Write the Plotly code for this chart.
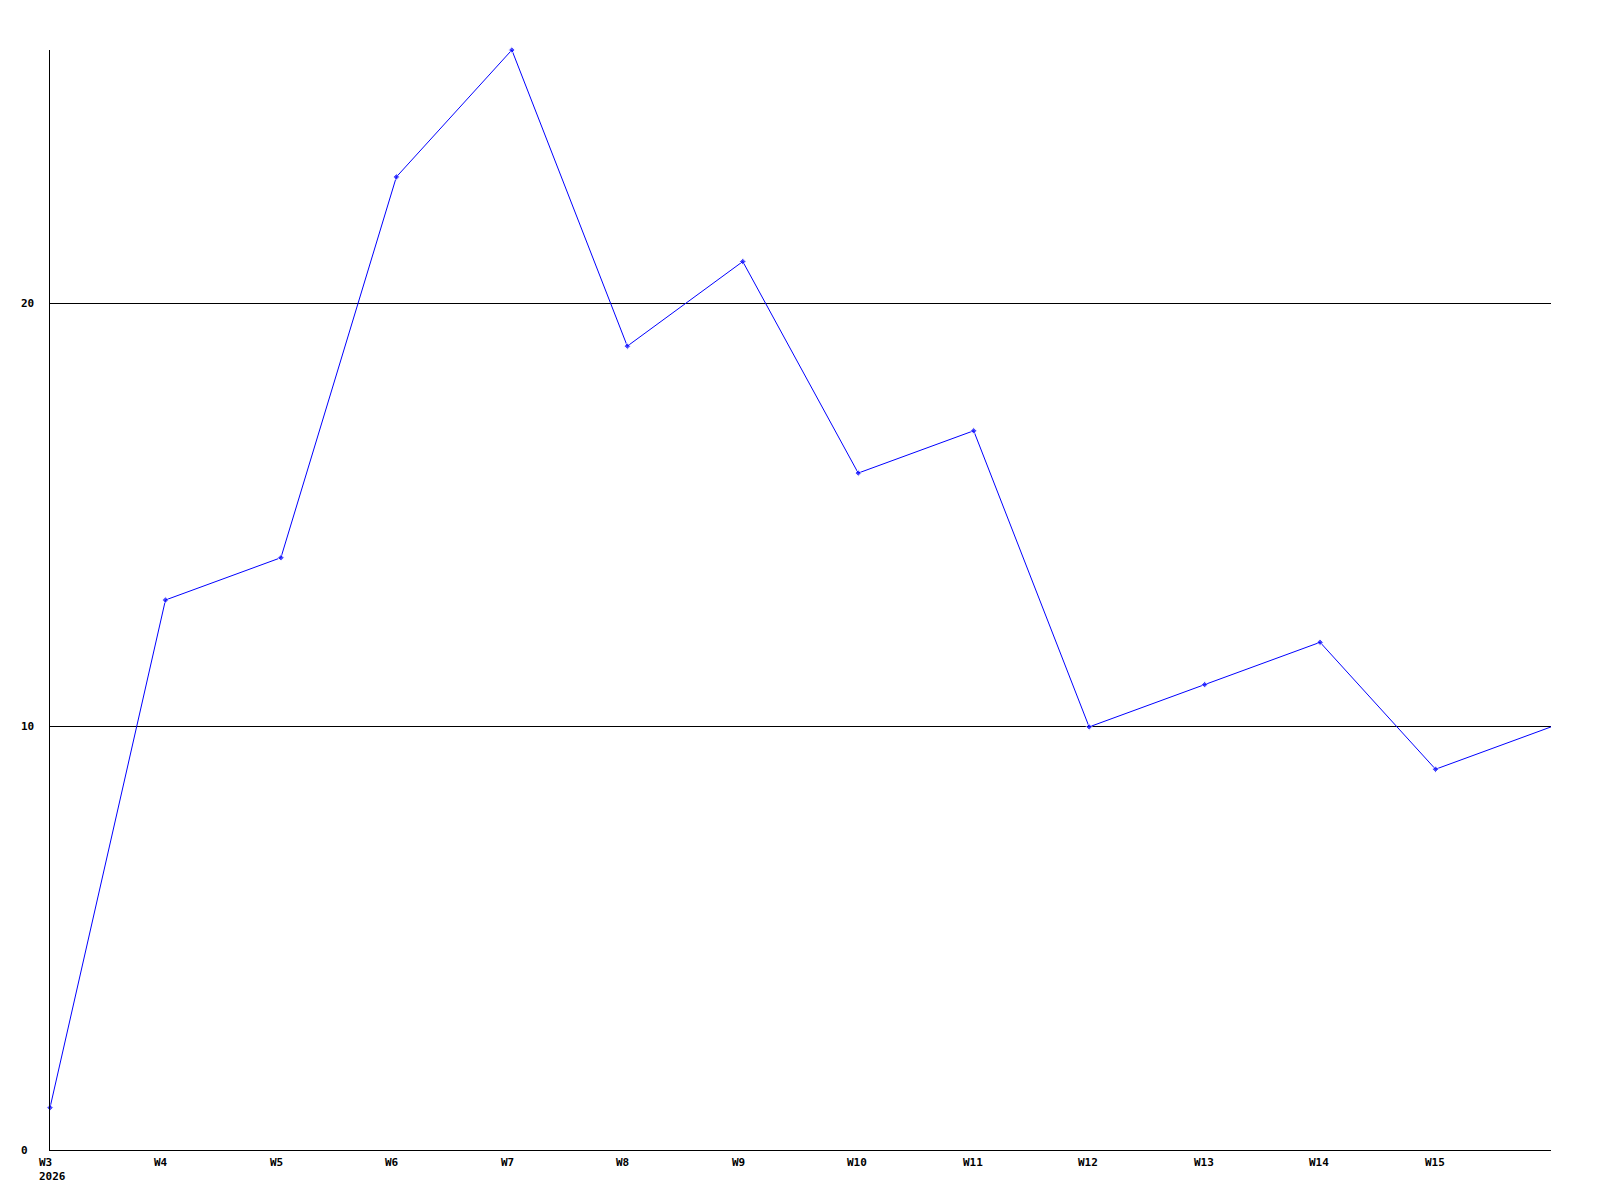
import plotly.graph_objects as go

weeks = ["W3", "W4", "W5", "W6", "W7", "W8", "W9", "W10", "W11", "W12", "W13", "W14", "W15", "W16"]
values = [1, 13, 14, 23, 26, 19, 21, 16, 17, 10, 11, 12, 9, 10]
tick_labels = ["W3", "W4", "W5", "W6", "W7", "W8", "W9", "W10", "W11", "W12", "W13", "W14", "W15"]
year_label = "2026"
y_ticks = [0, 10, 20]

xs = list(range(len(weeks)))
font = dict(family="DejaVu Sans Mono", size=11, color="black", weight="bold")

fig = go.Figure()
fig.add_trace(go.Scatter(
    x=xs, y=values, mode="lines+markers",
    line=dict(color="#0000ff", width=1),
    marker=dict(symbol="diamond", size=[5] * (len(xs) - 1) + [0], color="#0000ff"),
    cliponaxis=False, showlegend=False, hoverinfo="skip",
))

annotations = []
for i, t in enumerate(tick_labels):
    annotations.append(dict(x=i, y=0, xref="x", yref="paper", text=t, showarrow=False,
                            xanchor="left", yanchor="top", xshift=-13, yshift=-4, font=font))
annotations.append(dict(x=0, y=0, xref="x", yref="paper", text=year_label, showarrow=False,
                        xanchor="left", yanchor="top", xshift=-13, yshift=-18, font=font))
for v in y_ticks:
    annotations.append(dict(x=0, y=v, xref="paper", yref="y", text=str(v), showarrow=False,
                            xanchor="left", yanchor="middle", xshift=-31, font=font))
fig.update_layout(annotations=annotations)

fig.update_layout(
    width=1600, height=1200,
    margin=dict(l=42, r=57, t=42, b=58),
    paper_bgcolor="white", plot_bgcolor="white",
    xaxis=dict(range=[0, len(weeks) - 1], showgrid=False, zeroline=False,
               showline=True, linecolor="black", linewidth=1,
               showticklabels=False, ticks="", automargin=False),
    yaxis=dict(range=[0, 26], tickvals=y_ticks, showticklabels=False,
               showgrid=True, gridcolor="black", gridwidth=1, zeroline=False,
               showline=True, linecolor="black", linewidth=1, automargin=False,
               ticks=""),
)

fig.write_html("out.html")
